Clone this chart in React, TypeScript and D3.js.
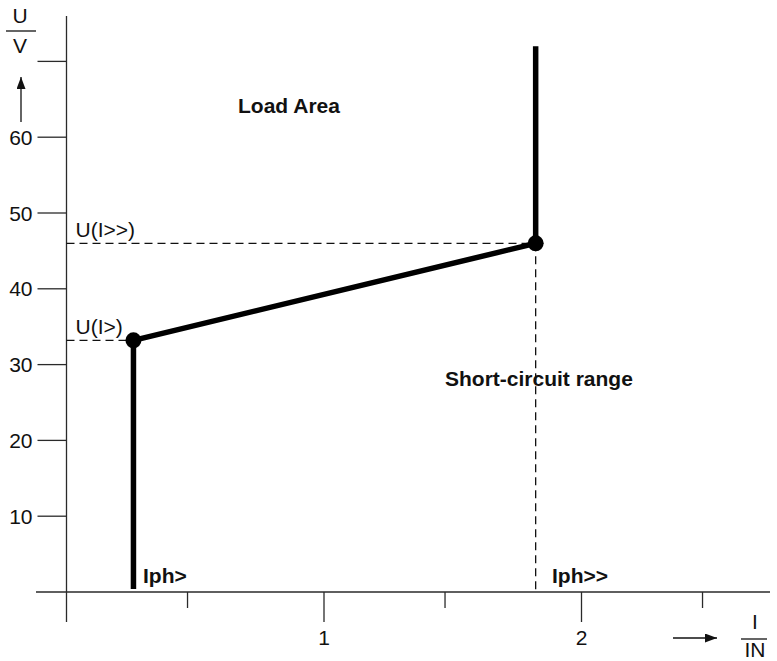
import React from "react";
import * as d3 from "d3";

// ---- data ----
const curveI = [0.26, 0.26, 1.822, 1.822];
const curveU = [0.4, 33.2, 46.0, 72.0];
const markerI = [0.26, 1.822];
const markerU = [33.2, 46.0];
const markerLabels = ["U(I>)", "U(I>>)"];
const yTicks = [10, 20, 30, 40, 50, 60, 70];
const yTickLabels = ["10", "20", "30", "40", "50", "60", ""];
const xMajorTicks = [1, 2];
const xMajorLabels = ["1", "2"];
const xMinorTicks = [0.47, 1.47, 2.47];

const W = 777;
const H = 661;
const FONT = "'Liberation Sans', Arial, Helvetica, sans-serif";
const INK = "#111";
const AXIS = "#2a2a2a";
const FS = 21;

export default function App() {
  const x = d3.scaleLinear().domain([0, 1]).range([66.5, 324]);
  const y = d3.scaleLinear().domain([0, 10]).range([592, 516.2]);

  const lineGen = d3
    .line<number>()
    .x((_, i) => x(curveI[i]))
    .y((d) => y(d));
  const curvePath = lineGen(curveU) || "";

  return (
    <svg
      width={W}
      height={H}
      style={{ position: "absolute", left: 0, top: 0, display: "block", background: "#fff" }}
      fontFamily={FONT}
    >
      <defs>
        <marker id="arr" viewBox="0 0 10 10" refX="10" refY="5" markerWidth="12" markerHeight="9" markerUnits="userSpaceOnUse" orient="auto" preserveAspectRatio="none">
          <path d="M0,0 L10,5 L0,10 Z" fill={INK} />
        </marker>
      </defs>

      {/* y axis */}
      <line x1={x(0)} x2={x(0)} y1={16} y2={622} stroke={AXIS} strokeWidth={1.3} />
      {yTicks.map((t, i) => (
        <g key={"yt" + t}>
          <line x1={x(0) - 29} x2={x(0)} y1={y(t)} y2={y(t)} stroke={AXIS} strokeWidth={1.3} />
          {yTickLabels[i] && (
            <text x={x(0) - 34} y={y(t)} dy="0.36em" textAnchor="end" fontSize={FS} fill={INK}>
              {yTickLabels[i]}
            </text>
          )}
        </g>
      ))}

      {/* x axis */}
      <line x1={36} x2={770} y1={y(0)} y2={y(0)} stroke={AXIS} strokeWidth={1.3} />
      {xMajorTicks.map((t, i) => (
        <g key={"xt" + t}>
          <line x1={x(t)} x2={x(t)} y1={y(0)} y2={y(0) + 30} stroke={AXIS} strokeWidth={1.3} />
          <text x={x(t)} y={645} textAnchor="middle" fontSize={FS} fill={INK}>
            {xMajorLabels[i]}
          </text>
        </g>
      ))}
      {xMinorTicks.map((t) => (
        <line key={"xm" + t} x1={x(t)} x2={x(t)} y1={y(0)} y2={y(0) + 16} stroke={AXIS} strokeWidth={1.3} />
      ))}

      {/* y axis title U / V with arrow */}
      <text x={20} y={23} textAnchor="middle" fontSize={FS} fill={INK}>U</text>
      <line x1={6} x2={36} y1={31} y2={31} stroke={INK} strokeWidth={1.3} />
      <text x={20} y={53} textAnchor="middle" fontSize={FS} fill={INK}>V</text>
      <line x1={21} x2={21} y1={122} y2={77} stroke={INK} strokeWidth={1.3} markerEnd="url(#arr)" />

      {/* x axis title I / IN with arrow */}
      <line x1={673} x2={717} y1={638} y2={638} stroke={INK} strokeWidth={1.3} markerEnd="url(#arr)" />
      <text x={755} y={629} textAnchor="middle" fontSize={FS} fill={INK}>I</text>
      <line x1={741} x2={767} y1={639} y2={639} stroke={INK} strokeWidth={1.3} />
      <text x={755} y={657} textAnchor="middle" fontSize={FS} fill={INK}>IN</text>

      {/* dashed reference lines */}
      {markerI.map((mi, i) => (
        <line key={"dh" + i} x1={x(0)} x2={x(mi)} y1={y(markerU[i])} y2={y(markerU[i])} stroke={INK} strokeWidth={1.3} strokeDasharray="8,5" />
      ))}
      <line x1={x(markerI[1])} x2={x(markerI[1])} y1={y(markerU[1])} y2={y(0)} stroke={INK} strokeWidth={1.3} strokeDasharray="8,5" />

      {markerLabels.map((l, i) => (
        <text key={"ml" + i} x={x(0) + 9} y={y(markerU[i]) - 6} fontSize={FS} fill={INK}>
          {l}
        </text>
      ))}

      {/* characteristic curve */}
      <path d={curvePath} fill="none" stroke="#000" strokeWidth={5.5} strokeLinejoin="miter" />
      {markerI.map((mi, i) => (
        <circle key={"pt" + i} cx={x(mi)} cy={y(markerU[i])} r={8} fill="#000" />
      ))}

      {/* area labels */}
      <text x={238} y={113} fontSize={FS} fontWeight="bold" fill={INK}>Load Area</text>
      <text x={445} y={386} fontSize={FS} fontWeight="bold" fill={INK}>Short-circuit range</text>
      <text x={143} y={583} fontSize={FS} fontWeight="bold" fill={INK}>Iph&gt;</text>
      <text x={552} y={583} fontSize={FS} fontWeight="bold" fill={INK}>Iph&gt;&gt;</text>
    </svg>
  );
}
